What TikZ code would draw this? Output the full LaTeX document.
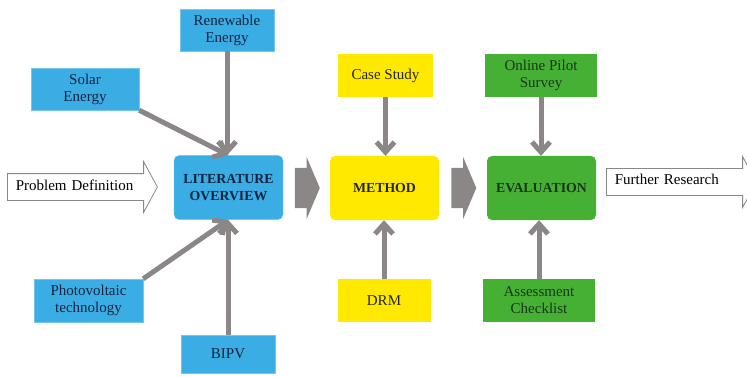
\documentclass[tikz,border=0pt]{standalone}
\usepackage{fontspec}
\setmainfont{Liberation Serif}
\usepackage{xcolor}
\usepackage{tikz}
\usetikzlibrary{shapes,shapes.arrows,arrows.meta,positioning,calc}

\definecolor{litblue}{HTML}{3AADE4}
\definecolor{methyellow}{HTML}{FFE900}
\definecolor{evalgreen}{HTML}{46B035}
\definecolor{linkgray}{HTML}{8B8787}
\definecolor{navytext}{HTML}{17233F}
\definecolor{greentext}{HTML}{1A361A}

\begin{document}
\begin{tikzpicture}[
    x=1pt, y=-1pt,
    box/.style={rectangle, align=center, inner sep=0pt, font=\fontsize{15}{17}\selectfont},
    bluebox/.style={box, fill=litblue, draw=litblue!70!white, text=navytext},
    yellowbox/.style={box, fill=methyellow, text=black!85},
    greenbox/.style={box, fill=evalgreen, text=greentext},
    mainbox/.style={rounded corners=5pt, minimum width=109pt, minimum height=64pt, font=\fontsize{13.8}{17}\selectfont\bfseries},
    link/.style={draw=linkgray, line width=5pt, -{Straight Barb[length=10pt, width=18pt]}},
    stepper/.style={single arrow, fill=linkgray, minimum height=25pt, text height=0pt, text depth=0pt, inner ysep=20pt, inner xsep=0pt, single arrow head extend=11pt, single arrow tip angle=134},
    outarrow/.style={single arrow, draw=linkgray, fill=white, line width=0.8pt, minimum height=150pt, text width=126pt, align=left, text height=9pt, text depth=3pt, inner ysep=7pt, inner xsep=5pt, single arrow head extend=12pt, single arrow tip angle=123, font=\fontsize{15}{17}\selectfont}
]
    \useasboundingbox (0,0) rectangle (747,377);
    \clip (0,0) rectangle (747,377);

    % Literature side
    \node[bluebox, mainbox] (lit) at (228.5,187.5) {LITERATURE\\OVERVIEW};
    \node[bluebox, minimum width=94pt, minimum height=42pt] (ren) at (227,30) {Renewable\\Energy};
    \node[bluebox, minimum width=108pt, minimum height=42pt] (solar) at (85,89) {Solar\\Energy};
    \node[bluebox, minimum width=109pt, minimum height=43pt] (pv) at (88.5,300.5) {Photovoltaic\\technology};
    \node[bluebox, minimum width=94pt, minimum height=38pt] (bipv) at (228,354) {BIPV};

    % Method
    \node[yellowbox, mainbox] (method) at (384.5,188) {METHOD};
    \node[yellowbox, minimum width=95pt, minimum height=43pt] (case) at (385.5,75.5) {Case Study};
    \node[yellowbox, minimum width=93pt, minimum height=43pt] (drm) at (384,300.5) {DRM};

    % Evaluation
    \node[greenbox, mainbox] (eval) at (541.5,188) {EVALUATION};
    \node[greenbox, minimum width=112pt, minimum height=43pt] (pilot) at (541,75.5) {Online Pilot\\Survey};
    \node[greenbox, minimum width=112pt, minimum height=43pt] (check) at (539,300.5) {Assessment\\Checklist};

    % In and out
    \node[outarrow, anchor=tail] (prob) at (7,187) {Problem Definition};
    \node[outarrow, anchor=tail] (further) at (606,182) {Further Research};

    % Steps
    \node[stepper] (step1) at (303,188) {};
    \node[stepper] (step2) at (459.5,188) {};

    % Links
    \draw[link] (ren.south) -- (ren.south |- lit.north);
    \draw[link] (solar.south east) -- (lit.north);
    \draw[link] (pv.north east) -- (lit.south);
    \draw[link] (bipv.north) -- (bipv.north |- lit.south);
    \draw[link] (case.south) -- (case.south |- method.north);
    \draw[link] (drm.north) -- (drm.north |- method.south);
    \draw[link] (pilot.south) -- (pilot.south |- eval.north);
    \draw[link] (check.north) -- (check.north |- eval.south);
\end{tikzpicture}
\end{document}
